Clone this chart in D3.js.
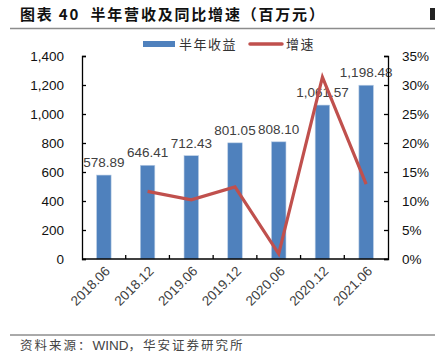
<!DOCTYPE html>
<html>
<head>
<meta charset="utf-8">
<script src="https://cdn.jsdelivr.net/npm/d3@7"></script>
<style>
  body { margin: 0; background: #fff; }
  svg { display: block; font-family: "Liberation Sans", Arial, "Noto Sans CJK SC", sans-serif; }
  .cn { font-family: "Noto Sans CJK SC", sans-serif; }
</style>
</head>
<body>
<div id="chart"></div>
<script>
// data
const periods = ['2018.06', '2018.12', '2019.06', '2019.12', '2020.06', '2020.12', '2021.06'];
const revenue = [578.89, 646.41, 712.43, 801.05, 808.10, 1061.57, 1198.48];
const growth = [null, 11.66, 10.21, 12.44, 0.88, 31.37, 12.90];
const leftTicks = [0, 200, 400, 600, 800, 1000, 1200, 1400];
const rightTicks = [0, 5, 10, 15, 20, 25, 30, 35];

const width = 435, height = 358;
const margin = { top: 56, bottom: 99, left: 82, right: 47 };

const svg = d3.select('#chart').append('svg')
  .attr('width', width).attr('height', height);

// title + rules
svg.append('text').attr('class', 'cn')
  .attr('x', 20).attr('y', 20)
  .attr('font-size', 15).attr('font-weight', 'bold').attr('fill', '#111')
  .attr('letter-spacing', 1.8)
  .attr('xml:space', 'preserve')
  .text('图表 40  半年营收及同比增速（百万元）');
svg.append('rect').attr('x', 430).attr('y', 8).attr('width', 5).attr('height', 12).attr('fill', '#222');
svg.append('line').attr('x1', 10).attr('x2', 435).attr('y1', 28.5).attr('y2', 28.5)
  .attr('stroke', '#8c8c8c').attr('stroke-width', 1.5);

const x = d3.scaleBand().domain(periods)
  .range([margin.left, width - margin.right]);
const y = d3.scaleLinear().domain([0, 1400])
  .range([height - margin.bottom, margin.top]);
const y2 = d3.scaleLinear().domain([0, 35])
  .range([height - margin.bottom, margin.top]);

const barW = 14.5;

// bars
svg.selectAll('.bar')
  .data(revenue)
  .join('rect')
  .attr('class', 'bar')
  .attr('x', (d, i) => x(periods[i]) + x.bandwidth() / 2 - barW / 2)
  .attr('y', d => y(d))
  .attr('width', barW)
  .attr('height', d => y(0) - y(d))
  .attr('fill', '#4f81bd')
  .attr('stroke', '#b9cde5')
  .attr('stroke-width', 0.6);

// bar labels
svg.selectAll('.blabel')
  .data(revenue)
  .join('text')
  .attr('class', 'blabel')
  .attr('x', (d, i) => x(periods[i]) + x.bandwidth() / 2)
  .attr('y', d => y(d) - 8)
  .attr('text-anchor', 'middle')
  .attr('font-size', 13.5)
  .attr('fill', '#404040')
  .text(d => d3.format(',.2f')(d));

// growth line
const line = d3.line()
  .defined(d => d.g != null)
  .x(d => x(d.p) + x.bandwidth() / 2)
  .y(d => y2(d.g));
svg.append('path')
  .datum(periods.map((p, i) => ({ p: p, g: growth[i] })))
  .attr('d', line)
  .attr('fill', 'none')
  .attr('stroke', '#c0504d')
  .attr('stroke-width', 3.2)
  .attr('stroke-linejoin', 'miter');

// axes
const yAxisL = d3.axisLeft(y).tickValues(leftTicks).tickSizeInner(-4).tickSizeOuter(-4)
  .tickPadding(18).tickFormat(d3.format(','));
const gl = svg.append('g')
  .attr('transform', `translate(${margin.left},0)`)
  .call(yAxisL);

const yAxisR = d3.axisRight(y2).tickValues(rightTicks).tickSizeInner(-4).tickSizeOuter(-4)
  .tickPadding(14).tickFormat(d => d + '%');
const gr = svg.append('g')
  .attr('transform', `translate(${width - margin.right},0)`)
  .call(yAxisR);

[gl, gr].forEach(g => {
  g.select('.domain').attr('stroke', '#000').attr('stroke-width', 1.3);
  g.selectAll('.tick line').attr('stroke', '#000').attr('stroke-width', 1.3);
  g.selectAll('.tick text').attr('font-size', 13.5).attr('fill', '#111')
    .attr('font-family', '"Liberation Sans", Arial, sans-serif');
});

// x axis: baseline with inward ticks at band edges
const xb = y(0);
svg.append('line')
  .attr('x1', margin.left).attr('x2', width - margin.right)
  .attr('y1', xb).attr('y2', xb)
  .attr('stroke', '#000').attr('stroke-width', 1.3);
svg.selectAll('.xtick')
  .data(periods.slice(1))
  .join('line')
  .attr('class', 'xtick')
  .attr('x1', d => x(d)).attr('x2', d => x(d))
  .attr('y1', xb).attr('y2', xb - 4)
  .attr('stroke', '#000').attr('stroke-width', 1.3);

svg.selectAll('.xlabel')
  .data(periods)
  .join('text')
  .attr('class', 'xlabel')
  .attr('text-anchor', 'end')
  .attr('font-size', 13.5)
  .attr('fill', '#404040')
  .attr('transform', d => `translate(${x(d) + x.bandwidth() / 2 + 7},${xb + 13}) rotate(-45)`)
  .text(d => d);

// legend
const lg = svg.append('g').attr('class', 'cn');
lg.append('rect').attr('x', 143).attr('y', 41).attr('width', 32).attr('height', 6).attr('fill', '#4f81bd');
lg.append('text').attr('x', 179).attr('y', 49).attr('font-size', 13).attr('fill', '#333')
  .attr('letter-spacing', 1.5).text('半年收益');
lg.append('line').attr('x1', 250).attr('x2', 282).attr('y1', 44).attr('y2', 44)
  .attr('stroke', '#c0504d').attr('stroke-width', 3.5).attr('stroke-linecap', 'round');
lg.append('text').attr('x', 286).attr('y', 49).attr('font-size', 13).attr('fill', '#333')
  .attr('letter-spacing', 1.5).text('增速');

// footer
svg.append('line').attr('x1', 10).attr('x2', 435).attr('y1', 335).attr('y2', 335)
  .attr('stroke', '#555').attr('stroke-width', 1);
const ft = svg.append('text').attr('class', 'cn')
  .attr('x', 20).attr('y', 350)
  .attr('font-size', 12.5).attr('fill', '#444');
ft.append('tspan').attr('letter-spacing', 2).text('资料来源：');
ft.append('tspan').attr('font-family', '"Liberation Sans", Arial, sans-serif').attr('font-size', 13.5).text('WIND');
ft.append('tspan').attr('letter-spacing', 2).text('，华安证券研究所');
</script>
</body>
</html>
